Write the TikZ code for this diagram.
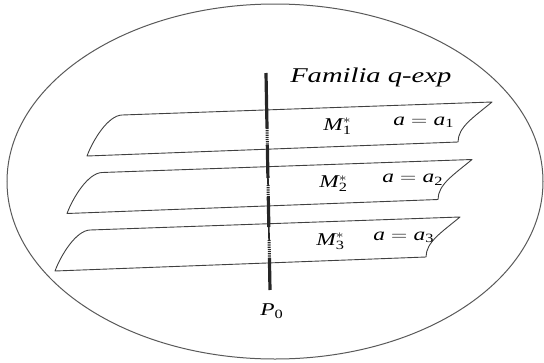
\documentclass[tikz,border=0pt]{standalone}
\usepackage{fontspec}
\setmainfont{Liberation Serif}
\usetikzlibrary{calc}

\begin{document}
\begin{tikzpicture}[x=1pt,y=-1pt,
  sheet/.style={draw=black!75,line width=0.9pt,line join=round},
  lbl/.style={inner sep=0pt,anchor=base west,xscale=1.3,font=\fontsize{18}{21}\selectfont},
  axis/.style={black!85,line width=3.2pt},
  hidden/.style={black!85,line width=3pt,dash pattern=on 1.2pt off 1pt},
  thinaxis/.style={black!85,line width=1.6pt}]
\useasboundingbox (0,0) rectangle (544,362);
\draw[black!65,line width=1pt] (275,181.5) ellipse [x radius=268,y radius=177.5];
% the three leaves M_1, M_2, M_3
\foreach \n/\dx/\dy/\mx/\ax in {1/0/0/323/393,2/-20/57.5/319/382,3/-32/115/316/373}{
  \begin{scope}[shift={(122+\dx,115+\dy)}]
    \draw[sheet] (-35,41) .. controls (-29,25) and (-14,0.5) .. (0,0) -- (370,-13)
      .. controls (352,2) and (336,12) .. (336,27) -- cycle;
  \end{scope}
  \node[lbl] (M\n) at (\mx,130+\dy) {$\mathit{M}_{\mathrm{\n}}^{*}$};
  \node[lbl] (a\n) at (\ax,125+\dy) {$\mathit{a}=\mathit{a}_{\mathrm{\n}}$};
}
% the fibre through P_0
\coordinate (top) at (266,73);
\coordinate (bot) at (270,290);
\foreach \s/\e/\sty in {0/0.2535/axis,0.2535/0.3318/hidden,0.3318/0.4839/axis,
    0.4839/0.5161/thinaxis,0.5161/0.5714/hidden,0.5714/0.7097/axis,
    0.7097/0.7696/thinaxis,0.7696/0.8525/hidden,0.8525/1/axis}
  \draw[\sty] ($(top)!\s!(bot)$) -- ($(top)!\e!(bot)$);
\node[lbl,anchor=center] (P0) at (272,311) {$\mathit{P}_{\mathrm{0}}$};
\node[inner sep=0pt,anchor=base west,xscale=1.36,font=\fontsize{21}{25}\selectfont\itshape]
  (fam) at (290,82.5) {Familia q-exp};
\end{tikzpicture}
\end{document}
